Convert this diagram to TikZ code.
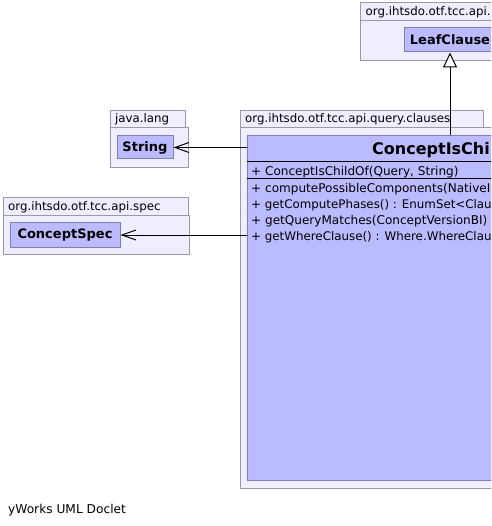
\documentclass[tikz,border=0pt]{standalone}
\usepackage{fontspec}
\setmainfont{DejaVu Sans}
\usetikzlibrary{arrows.meta}
\definecolor{pkgfill}{RGB}{238,238,255}
\definecolor{pkgline}{RGB}{153,153,170}
\definecolor{clsfill}{RGB}{187,187,255}
\definecolor{clsline}{RGB}{128,128,170}
\tikzset{
  pkgbox/.style={draw=pkgline, fill=pkgfill, line width=1pt, inner sep=0pt, anchor=north west},
  clsbox/.style={draw=clsline, fill=clsfill, line width=1pt, inner sep=0pt,
    font=\fontsize{13}{15}\bfseries\selectfont},
  pkgtext/.style={inner sep=0pt, anchor=base west, font=\fontsize{11.8}{14}\selectfont},
  member/.style={inner sep=0pt, anchor=base west, font=\fontsize{12.05}{14}\selectfont},
  longmember/.style={member, font=\fontsize{11.85}{14}\selectfont},
  titletext/.style={inner sep=0pt, anchor=base west, font=\fontsize{16}{19}\bfseries\selectfont},
  dep/.style={line width=1pt, -{Straight Barb[length=14pt,width=10pt,line width=1pt]}},
  gen/.style={line width=1pt, -{Triangle[open, fill=white, length=15pt, width=14pt, line width=1pt]}},
  sepline/.style={line width=1pt, draw=black},
}
\begin{document}
\begin{tikzpicture}[x=1pt,y=-1pt]
\clip (0,0) rectangle (491,526);
\fill[white] (0,0) rectangle (491,526);
% --- top package (cut at the right edge)
\node[pkgbox, minimum width=200pt, minimum height=40pt] (toppkg) at (360,20) {};
\node[pkgbox, minimum width=200pt, minimum height=18pt] (toptab) at (360,2) {};
\node[pkgtext] (toptabtext) at (365.5,16) {org.ihtsdo.otf.tcc.api.};
\node[clsbox, minimum width=92pt, minimum height=24pt] (leaf) at (450,40) {LeafClause};
% --- java.lang package
\node[pkgbox, minimum width=78pt, minimum height=40pt] (langpkg) at (110,127) {};
\node[pkgbox, minimum width=75pt, minimum height=17pt] (langtab) at (110,110) {};
\node[pkgtext] (langtabtext) at (115,123) {java.lang};
\node[clsbox, minimum width=56pt, minimum height=23pt] (str) at (145,147.5) {String};
% --- spec package
\node[pkgbox, minimum width=186pt, minimum height=39pt] (specpkg) at (3,215) {};
\node[pkgbox, minimum width=185pt, minimum height=18pt] (spectab) at (3,197) {};
\node[pkgtext] (spectabtext) at (8,210.5) {org.ihtsdo.otf.tcc.api.spec};
\node[clsbox, minimum width=110pt, minimum height=24pt] (cspec) at (65,235) {ConceptSpec};
% --- clauses package
\node[pkgbox, minimum width=420pt, minimum height=361pt] (clpkg) at (240,127) {};
\node[pkgbox, minimum width=243pt, minimum height=17pt] (cltab) at (240,110) {};
\node[pkgtext] (cltabtext) at (245,123) {org.ihtsdo.otf.tcc.api.query.clauses};
\node[clsbox, minimum width=406pt, minimum height=344pt] (main) at (450,308) {};
\node[titletext] (title) at (372,155) {ConceptIsChi};
\draw[sepline] (main.west |- 0,162) -- (main.east |- 0,162);
\draw[sepline] (main.west |- 0,179) -- (main.east |- 0,179);
\node[member] (m0) at (251,175.5) {+ ConceptIsChildOf(Query, String)};
\node[member] (m1) at (251,192.5) {+ computePossibleComponents(NativeI};
\node[longmember] (m2) at (251,208.5) {+ getComputePhases() : EnumSet<Clau};
\node[member] (m3) at (251,224.5) {+ getQueryMatches(ConceptVersionBI)};
\node[longmember] (m4) at (251,240.5) {+ getWhereClause() : Where.WhereClau};
% --- connectors
\draw[dep] (main.west |- str.east) -- (str.east);
\draw[dep] (main.west |- cspec.east) -- (cspec.east);
\draw[gen] (main.north -| leaf.south) -- (leaf.south);
% --- footer
\node[inner sep=0pt, anchor=base west, font=\fontsize{12.2}{14}\selectfont] (footer) at (8,513) {yWorks UML Doclet};
\end{tikzpicture}
\end{document}
